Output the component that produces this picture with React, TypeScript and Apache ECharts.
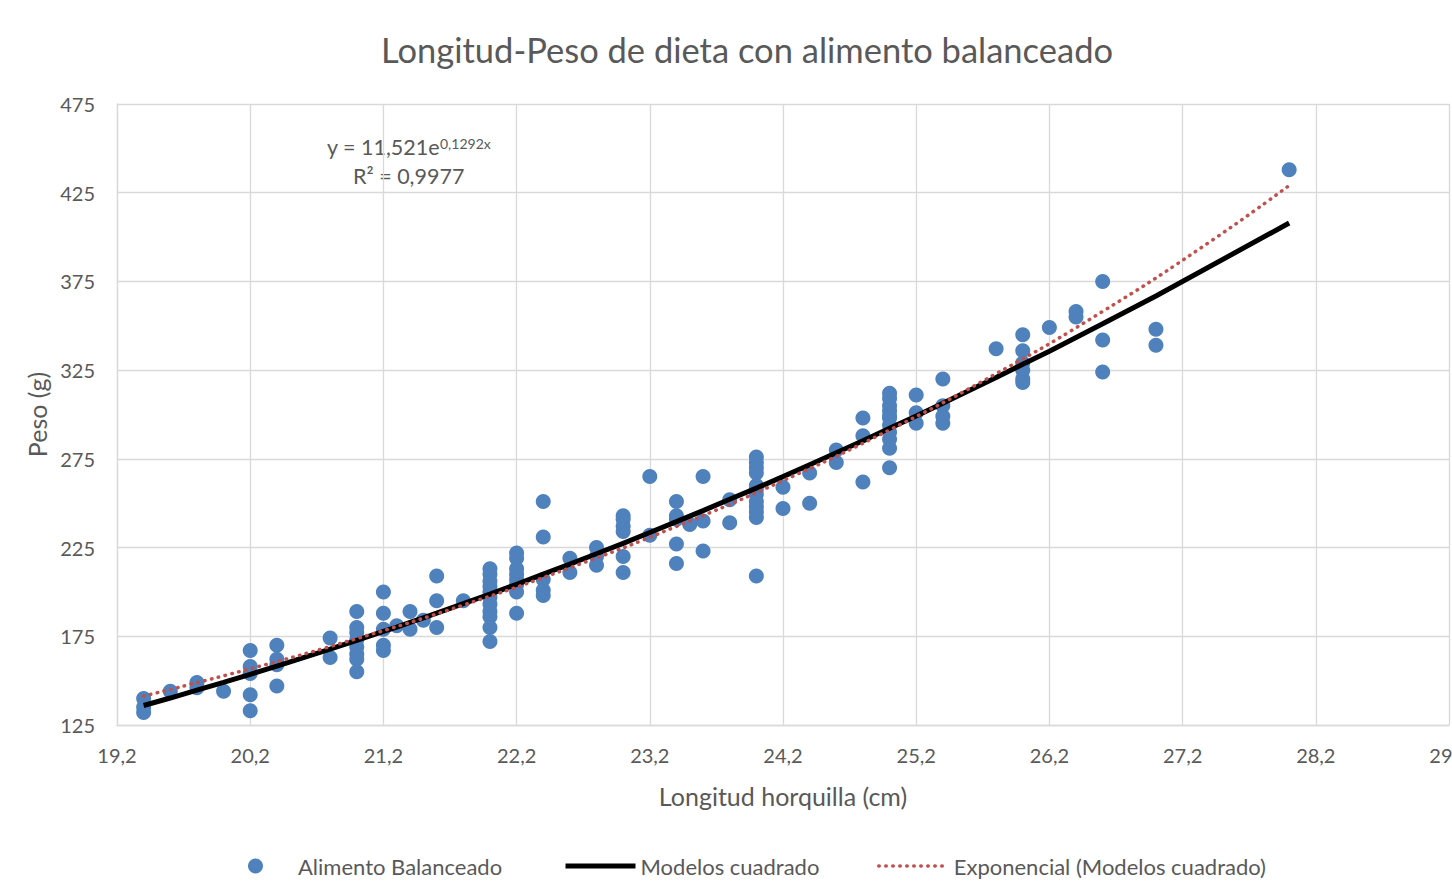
import { useEffect, useRef } from "react";
import * as echarts from "echarts";

const TITLE = "Longitud-Peso de dieta con alimento balanceado";
const X_NAME = "Longitud horquilla (cm)";
const Y_NAME = "Peso (g)";
const SERIES_NAMES = ["Alimento Balanceado", "Modelos cuadrado", "Exponencial (Modelos cuadrado)"];
const EQUATION_MAIN = "y = 11,521e";
const EQUATION_EXP = "0,1292x";
const EQUATION_R2 = "R² = 0,9977";

const X_MIN = 19.2;
const X_MAX = 29.2;
const X_STEP = 1;
const Y_MIN = 125;
const Y_MAX = 475;
const Y_STEP = 50;

// Observed points (longitud, peso)
const longitud = [
  19.4, 19.4, 19.4,
  19.6,
  19.8, 19.8,
  20.0,
  20.2, 20.2, 20.2, 20.2, 20.2,
  20.4, 20.4, 20.4, 20.4,
  20.8, 20.8,
  21.0, 21.0, 21.0, 21.0, 21.0, 21.0, 21.0, 21.0,
  21.2, 21.2, 21.2, 21.2, 21.2,
  21.3,
  21.4, 21.4,
  21.5,
  21.6, 21.6, 21.6,
  21.8,
  22.0, 22.0, 22.0, 22.0, 22.0, 22.0, 22.0, 22.0, 22.0, 22.0, 22.0,
  22.2, 22.2, 22.2, 22.2, 22.2, 22.2, 22.2, 22.2,
  22.4, 22.4, 22.4, 22.4, 22.4,
  22.6, 22.6,
  22.8, 22.8, 22.8,
  23.0, 23.0, 23.0, 23.0, 23.0, 23.0,
  23.2, 23.2,
  23.4, 23.4, 23.4, 23.4, 23.4,
  23.5,
  23.6, 23.6, 23.6,
  23.8, 23.8,
  24.0, 24.0, 24.0, 24.0, 24.0, 24.0, 24.0, 24.0, 24.0, 24.0, 24.0, 24.0,
  24.2, 24.2,
  24.4, 24.4,
  24.6, 24.6,
  24.8, 24.8, 24.8,
  25.0, 25.0, 25.0, 25.0, 25.0, 25.0, 25.0, 25.0, 25.0, 25.0, 25.0,
  25.2, 25.2, 25.2,
  25.4, 25.4, 25.4, 25.4,
  25.8,
  26.0, 26.0, 26.0, 26.0, 26.0, 26.0,
  26.2,
  26.4, 26.4,
  26.6, 26.6, 26.6,
  27.0, 27.0,
  28.0,
];

const peso = [
  140, 135, 132,
  144,
  149, 146,
  144,
  167, 158, 154, 142, 133,
  170, 162, 159, 147,
  174, 163,
  189, 180, 177, 173, 169, 165, 162, 155,
  200, 188, 179, 170, 167,
  181,
  189, 179,
  184,
  209, 195, 180,
  195,
  213, 210, 206, 203, 200, 197, 193, 189, 186, 180, 172,
  222, 219, 213, 210, 207, 204, 200, 188,
  251, 231, 207, 201, 198,
  219, 211,
  225, 220, 215,
  243, 241, 237, 234, 220, 211,
  265, 232,
  251, 243, 241, 227, 216,
  238,
  265, 240, 223,
  252, 239,
  276, 273, 270, 267, 260, 258, 255, 251, 248, 245, 242, 209,
  259, 247,
  267, 250,
  280, 273,
  298, 288, 262,
  312, 309, 305, 302, 299, 298, 294, 290, 286, 281, 270,
  311, 301, 295,
  320, 305, 299, 295,
  337,
  345, 336, 329, 325, 320, 318,
  349,
  358, 355,
  375, 342, 324,
  348, 339,
  438,
];

// "Modelos cuadrado" line
const modeloLongitud = [
  19.4, 19.6, 19.8, 20.0, 20.2, 20.4, 20.8, 21.0, 21.2, 21.3, 21.4, 21.5, 21.6, 21.8,
  22.0, 22.2, 22.4, 22.6, 22.8, 23.0, 23.2, 23.4, 23.5, 23.6, 23.8, 24.0, 24.2, 24.4,
  24.6, 24.8, 25.0, 25.2, 25.4, 25.8, 26.0, 26.2, 26.4, 26.6, 27.0, 28.0,
];
const modeloPeso = [
  136, 140.2, 144.6, 149, 153.5, 158.2, 167.7, 172.7, 177.7, 180.2, 182.8, 185.4, 188, 193.4,
  198.8, 204.3, 210, 215.7, 221.5, 227.4, 233.5, 239.6, 242.7, 245.8, 252.2, 258.5, 265, 271.7,
  278.4, 285.2, 292.2, 299.2, 306.3, 320.9, 328.3, 335.7, 343.4, 351.1, 366.8, 407.9,
];

// Exponential trendline values (y = 11,521e^0,1292x) at sample lengths
const expLongitud = [19.4, 20.2, 21.0, 21.8, 22.6, 23.4, 24.2, 25.0, 25.8, 26.6, 27.4, 28.0];
const expPeso = [141.3, 156.7, 173.7, 192.6, 213.6, 236.9, 262.7, 291.3, 323.0, 358.1, 397.1, 429.1];

const FONT = "Lato, 'Liberation Sans', sans-serif";
const TEXT_COLOR = "#595959";
const GRID_COLOR = "#D9D9D9";

const fmt = (v: number) => v.toFixed(1).replace(".", ",");

export default function App() {
  const ref = useRef<HTMLDivElement>(null);

  useEffect(() => {
    if (!ref.current) return;
    const chart = echarts.init(ref.current, null, { renderer: "svg" });

    const scatterData = longitud.map((x, i) => [x, peso[i]]);
    const modelData = modeloLongitud.map((x, i) => [x, modeloPeso[i]]);
    const expData = expLongitud.map((x, i) => [x, expPeso[i]]);

    const legendText = { fontFamily: FONT, fontSize: 22, color: TEXT_COLOR };

    chart.setOption({
      animation: false,
      backgroundColor: "#ffffff",
      textStyle: { fontFamily: FONT },
      title: {
        text: TITLE,
        left: 742,
        top: 27,
        textAlign: "center",
        textStyle: { fontFamily: FONT, fontSize: 34.5, fontWeight: "normal", color: TEXT_COLOR },
      },
      grid: {
        left: 117,
        right: 3,
        top: 104,
        bottom: 156,
        containLabel: false,
        outerBoundsMode: "none",
      },
      xAxis: [
        { type: "value", min: X_MIN, max: X_MAX, show: false },
        {
          type: "value",
          min: 0,
          max: X_MAX - X_MIN,
          interval: X_STEP,
          position: "bottom",
          name: X_NAME,
          nameLocation: "middle",
          nameGap: 58,
          nameTextStyle: { fontFamily: FONT, fontSize: 25, color: TEXT_COLOR },
          axisLine: { show: true, lineStyle: { color: GRID_COLOR, width: 1.3 } },
          axisTick: { show: false },
          axisLabel: {
            margin: 20,
            fontFamily: FONT,
            fontSize: 20,
            color: TEXT_COLOR,
            hideOverlap: false,
            formatter: (v: number) => fmt(X_MIN + v),
          },
          splitLine: { show: true, lineStyle: { color: GRID_COLOR, width: 1.3 } },
        },
      ],
      yAxis: [
        { type: "value", min: Y_MIN, max: Y_MAX, show: false },
        {
          type: "value",
          min: 0,
          max: Y_MAX - Y_MIN,
          interval: Y_STEP,
          position: "left",
          name: Y_NAME,
          nameLocation: "middle",
          nameRotate: 90,
          nameGap: 67,
          nameTextStyle: { fontFamily: FONT, fontSize: 25, color: TEXT_COLOR },
          axisLine: { show: true, lineStyle: { color: GRID_COLOR, width: 1.3 } },
          axisTick: { show: false },
          axisLabel: {
            margin: 22,
            fontFamily: FONT,
            fontSize: 20,
            color: TEXT_COLOR,
            formatter: (v: number) => String(Y_MIN + v),
          },
          splitLine: { show: true, lineStyle: { color: GRID_COLOR, width: 1.3 } },
        },
      ],
      legend: [
        {
          data: [{ name: SERIES_NAMES[0], icon: "circle" }],
          left: 243,
          top: 850,
          itemWidth: 15,
          itemHeight: 15,
          selectedMode: false,
          textStyle: { ...legendText, padding: [0, 0, 0, 30] },
        },
        {
          data: [SERIES_NAMES[1]],
          left: 558,
          top: 850,
          itemWidth: 70,
          itemHeight: 15,
          selectedMode: false,
          itemStyle: { opacity: 0 },
          lineStyle: { width: 5 },
          textStyle: legendText,
        },
        {
          data: [SERIES_NAMES[2]],
          left: 872,
          top: 850,
          itemWidth: 70,
          itemHeight: 15,
          selectedMode: false,
          itemStyle: { opacity: 0 },
          lineStyle: { width: 3.5 },
          textStyle: legendText,
        },
      ],
      graphic: [
        {
          type: "text",
          left: 327,
          top: 136,
          style: { text: EQUATION_MAIN, fontFamily: FONT, fontSize: 21.5, fill: TEXT_COLOR },
        },
        {
          type: "text",
          left: 440,
          top: 136,
          style: { text: EQUATION_EXP, fontFamily: FONT, fontSize: 14, fill: TEXT_COLOR },
        },
        {
          type: "text",
          left: 353,
          top: 165,
          style: { text: EQUATION_R2, fontFamily: FONT, fontSize: 21.5, fill: TEXT_COLOR },
        },
      ],
      series: [
        {
          name: SERIES_NAMES[0],
          type: "scatter",
          xAxisIndex: 0,
          yAxisIndex: 0,
          data: scatterData,
          symbol: "circle",
          symbolSize: 15,
          itemStyle: { color: "#4F81BD", opacity: 1 },
          z: 2,
        },
        {
          name: SERIES_NAMES[1],
          type: "line",
          xAxisIndex: 0,
          yAxisIndex: 0,
          data: modelData,
          symbol: "none",
          lineStyle: { color: "#000000", width: 5 },
          itemStyle: { color: "#000000" },
          z: 3,
        },
        {
          name: SERIES_NAMES[2],
          type: "line",
          xAxisIndex: 0,
          yAxisIndex: 0,
          data: expData,
          smooth: true,
          symbol: "none",
          lineStyle: { color: "#C0504D", width: 3.5, type: [0.5, 6.5], cap: "round" },
          itemStyle: { color: "#C0504D" },
          z: 4,
        },
      ],
    });

    return () => chart.dispose();
  }, []);

  return (
    <div
      ref={ref}
      style={{ position: "fixed", left: 0, top: 0, width: 1452, height: 881, background: "#fff" }}
    />
  );
}
